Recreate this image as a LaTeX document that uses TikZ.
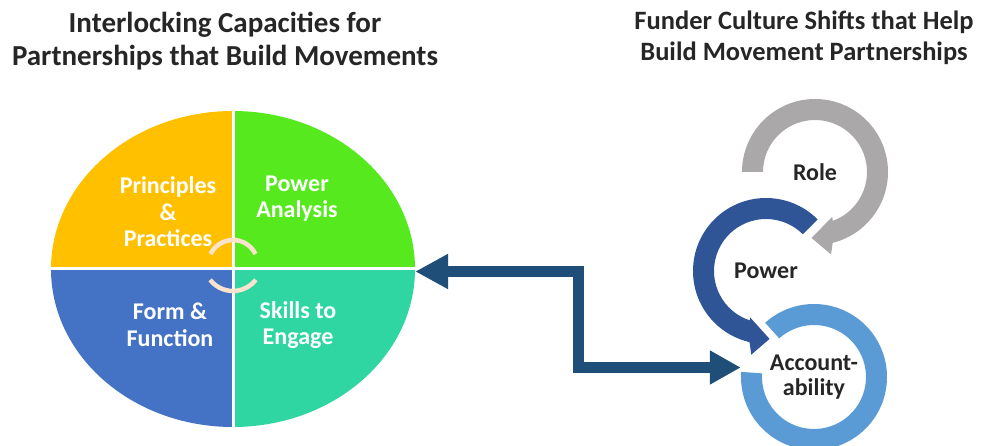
\documentclass[tikz,border=0pt]{standalone}
\usepackage{fontspec}
\setmainfont{Carlito}
\usetikzlibrary{arrows.meta,shapes.geometric,calc}
\definecolor{capOrange}{HTML}{FFC000}
\definecolor{capGreen}{HTML}{56EA1E}
\definecolor{capBlue}{HTML}{4472C4}
\definecolor{capTeal}{HTML}{30D6A1}
\definecolor{cream}{HTML}{FBE3CD}
\definecolor{roleGray}{HTML}{AAA8A8}
\definecolor{powerBlue}{HTML}{2F5597}
\definecolor{acctBlue}{HTML}{5B9BD5}
\definecolor{linkBlue}{HTML}{1F4E79}
\definecolor{ink}{HTML}{262626}

\begin{document}
\begin{tikzpicture}[x=1pt,y=1pt,
  title/.style={font=\bfseries\fontsize{29}{33}\selectfont, align=center, text=ink},
  rtitle/.style={font=\bfseries\fontsize{26.5}{31}\selectfont, align=center, text=ink},
  quad/.style={font=\bfseries\fontsize{24}{26.5}\selectfont, align=center, text=white},
  ringlabel/.style={font=\bfseries\fontsize{24}{25}\selectfont, align=center, text=ink},
  ringnode/.style={circle, minimum size=146pt, inner sep=0pt},
  link/.style={draw=linkBlue, line width=11pt, line join=miter,
    {Triangle[length=33pt,width=33pt]}-{Triangle[length=31pt,width=32pt]}},
  loop/.style={draw=cream, line width=4.5pt}
]
\useasboundingbox (0,0) rectangle (983,445);

% headings
\node[title] (ltitle) at (225,403.5) {Interlocking Capacities for\\Partnerships that Build Movements};
\node[rtitle] (rtitle) at (804,407.5) {Funder Culture Shifts that Help\\Build Movement Partnerships};

% four-part capacity wheel
\node[ellipse, minimum width=364pt, minimum height=316pt, inner sep=0pt] (wheel) at (233,176) {};
\begin{scope}
  \clip (wheel.center) ellipse [x radius=182, y radius=158];
  \fill[capOrange] (wheel.center) rectangle ++(-190,170);
  \fill[capGreen]  (wheel.center) rectangle ++(190,170);
  \fill[capBlue]   (wheel.center) rectangle ++(-190,-170);
  \fill[capTeal]   (wheel.center) rectangle ++(190,-170);
  \draw[white, line width=3pt] (wheel.north) -- (wheel.south) (wheel.west) -- (wheel.east);
\end{scope}
% interlocking loops at the hub
\draw[loop] ($(wheel.center)+(0,4)+(154:25)$) arc[start angle=154, end angle=26, radius=25];
\draw[loop] ($(wheel.center)+(0,7)+(218:29)$) arc[start angle=218, end angle=322, radius=29];

\node[quad] (pp) at (168,233) {Principles\\\&\\Practices};
\node[quad] (pa) at (297,246.5) {Power\\Analysis};
\node[quad] (ff) at (170,120) {Form \&\\Function};
\node[quad] (se) at (298,120) {Skills to\\Engage};

% culture-shift cycle
\node[ringnode, ringlabel] (role)  at (815,273) {Role};
\node[ringnode, ringlabel] (power) at (766,174) {Power};
\node[ringnode, ringlabel] (acct)  at (814,68)  {Account-\\ability};

\begin{scope}[shift={(role.center)}]
  \fill[roleGray] (180:73) arc[start angle=180, end angle=-76, radius=73]
    -- (-79:84) -- (-93:66) -- (-69:48) -- (-70:52)
    arc[start angle=-70, end angle=180, radius=52] -- cycle;
\end{scope}
\begin{scope}[shift={(power.center)}]
  \fill[powerBlue] (45:73) arc[start angle=45, end angle=257, radius=73]
    -- (260:85) -- (273:68) -- (251:49) -- (252:52)
    arc[start angle=252, end angle=45, radius=52] -- cycle;
\end{scope}
\begin{scope}[shift={(acct.center)}]
  \fill[acctBlue] (176:73) arc[start angle=176, end angle=492, radius=73]
    -- (492:52) arc[start angle=492, end angle=176, radius=52] -- cycle;
\end{scope}

% two-way link between the wheel and the cycle
\coordinate (bend) at (578,120);
\draw[link] ([yshift=-2.5pt]wheel.east) -| (bend) |- ([yshift=9.5pt]acct.west);
\end{tikzpicture}
\end{document}
